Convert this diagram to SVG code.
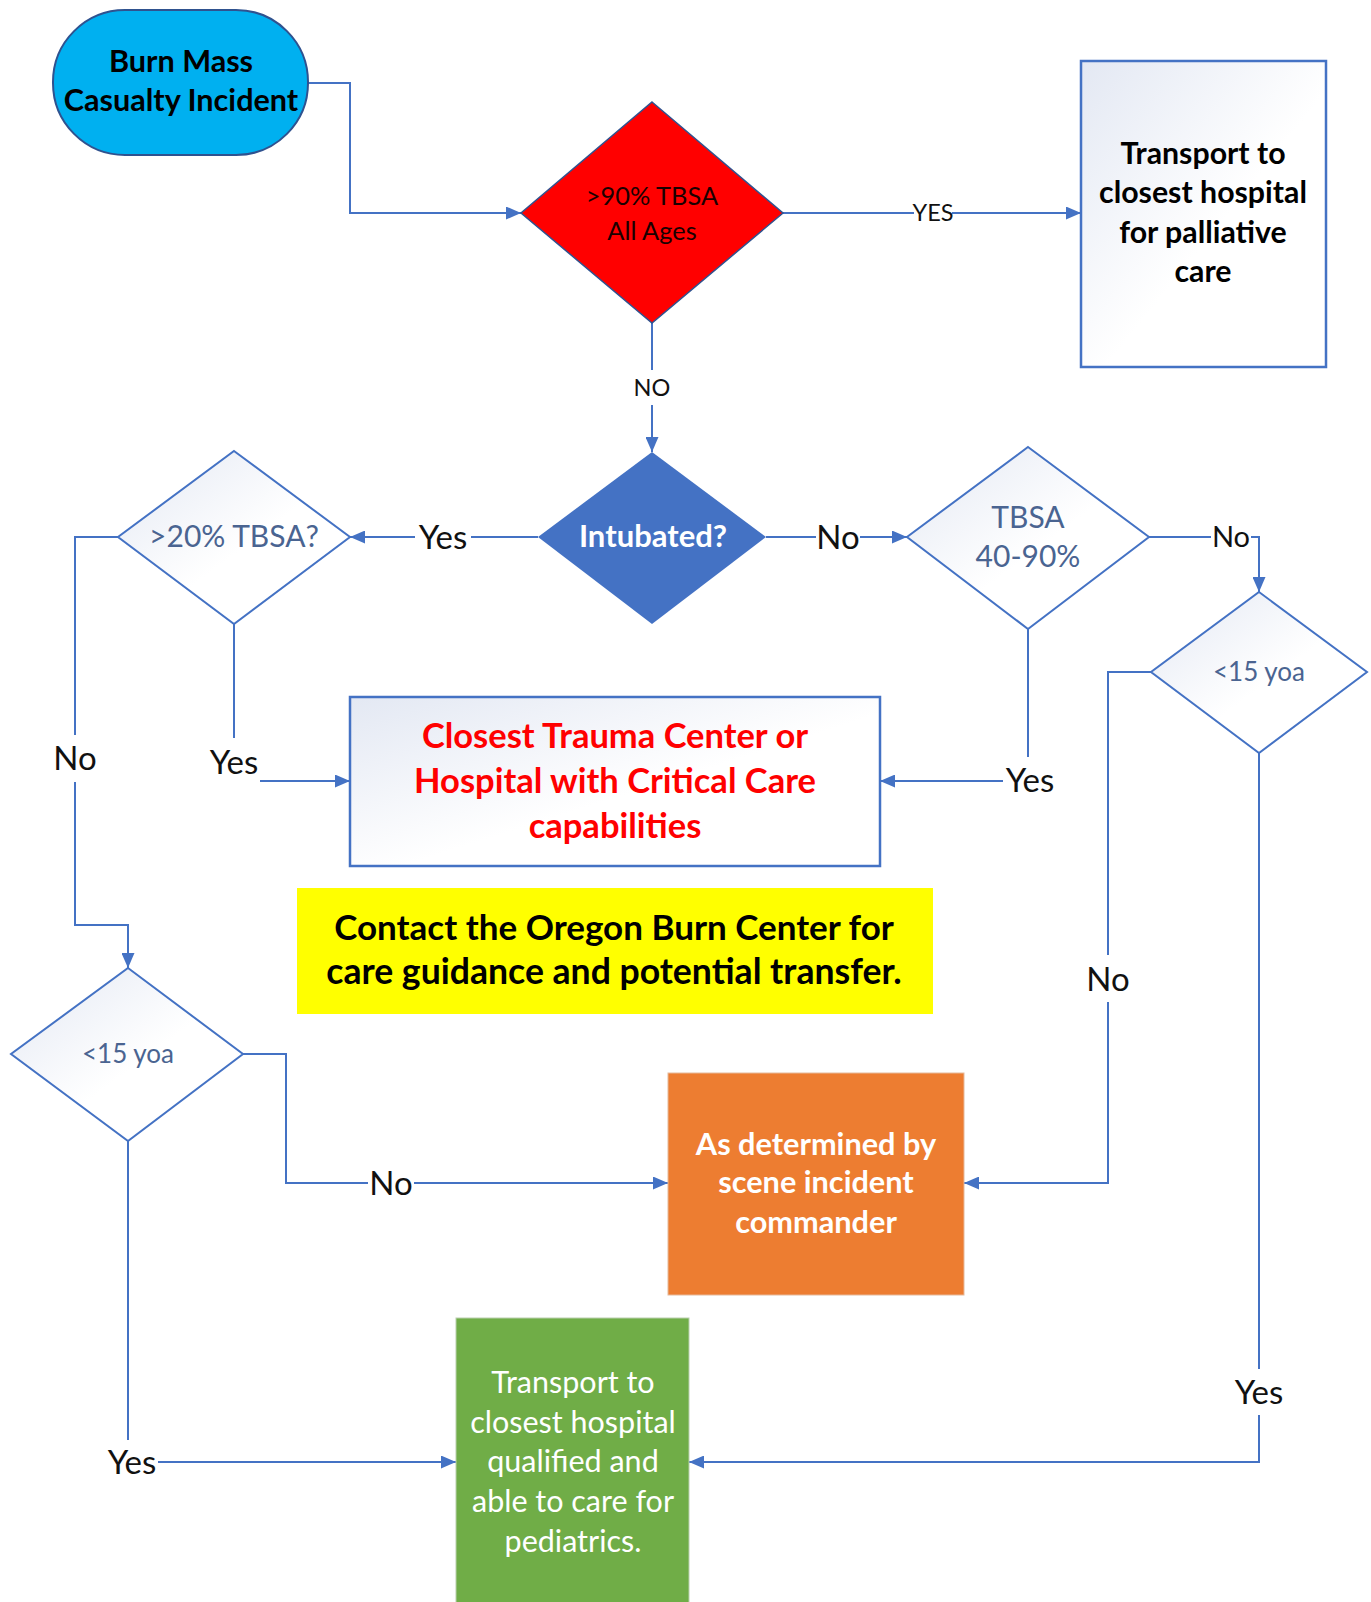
<svg xmlns="http://www.w3.org/2000/svg" width="1371" height="1602" viewBox="0 0 1371 1602">
<defs>
<linearGradient id="lg" x1="0" y1="0" x2="1" y2="1">
<stop offset="0" stop-color="#E3E8F3"/>
<stop offset="0.55" stop-color="#FFFFFF"/>
<stop offset="1" stop-color="#FFFFFF"/>
</linearGradient>
<marker id="ah" viewBox="0 0 15 13" refX="15" refY="6.5" markerWidth="15" markerHeight="13" markerUnits="userSpaceOnUse" orient="auto">
<path d="M0,0 L15,6.5 L0,13 z" fill="#4472C4"/>
</marker>
<style>
text{font-family:Lato,"Liberation Sans",sans-serif;text-anchor:middle}
.conn{fill:none;stroke:#4472C4;stroke-width:2}
.lbl{font-size:33px;fill:#111}
.lbls{font-size:23.5px;fill:#111}
.mask{fill:#FFFFFF}
.dq{fill:url(#lg);stroke:#4472C4;stroke-width:2}
.dqt{fill:#4A6491;font-size:30px}
.b{font-weight:bold}
</style>
</defs>
<rect width="1371" height="1602" fill="#FFFFFF"/>

<g id="connectors">
<path class="conn" d="M308,83 H350 V213 H521" marker-end="url(#ah)"/>
<path class="conn" d="M783,213 H1081" marker-end="url(#ah)"/>
<path class="conn" d="M652,323 V452" marker-end="url(#ah)"/>
<path class="conn" d="M538,537 H350" marker-end="url(#ah)"/>
<path class="conn" d="M766,537 H907" marker-end="url(#ah)"/>
<path class="conn" d="M1149,537 H1259 V592" marker-end="url(#ah)"/>
<path class="conn" d="M234,624 V781 H350" marker-end="url(#ah)"/>
<path class="conn" d="M1028,629 V781 H880" marker-end="url(#ah)"/>
<path class="conn" d="M118,537 H75 V925 H128 V968" marker-end="url(#ah)"/>
<path class="conn" d="M243,1054 H286 V1183 H668" marker-end="url(#ah)"/>
<path class="conn" d="M1151,672 H1108 V1183 H964" marker-end="url(#ah)"/>
<path class="conn" d="M128,1141 V1462 H456" marker-end="url(#ah)"/>
<path class="conn" d="M1259,753 V1462 H689" marker-end="url(#ah)"/>

<rect class="mask" x="914" y="202" width="38" height="22"/>
<text class="lbls" x="933" y="221">YES</text>
<rect class="mask" x="634" y="370" width="36" height="35"/>
<text class="lbls" x="652" y="396">NO</text>
<rect class="mask" x="415" y="520" width="56" height="35"/>
<text class="lbl" x="443" y="549">Yes</text>
<rect class="mask" x="816" y="520" width="44" height="35"/>
<text class="lbl" x="838" y="549">No</text>
<rect class="mask" x="1211" y="522" width="40" height="30"/>
<text class="lbl" x="1231" y="547" style="font-size:29px">No</text>
<rect class="mask" x="208" y="738" width="52" height="49"/>
<text class="lbl" x="234" y="774">Yes</text>
<rect class="mask" x="1003" y="757" width="54" height="38"/>
<text class="lbl" x="1030" y="792">Yes</text>
<rect class="mask" x="52" y="735" width="46" height="47"/>
<text class="lbl" x="75" y="770">No</text>
<rect class="mask" x="368" y="1165" width="46" height="35"/>
<text class="lbl" x="391" y="1195">No</text>
<rect class="mask" x="1086" y="955" width="44" height="47"/>
<text class="lbl" x="1108" y="991">No</text>
<rect class="mask" x="105" y="1440" width="53" height="45"/>
<text class="lbl" x="132" y="1474">Yes</text>
<rect class="mask" x="1232" y="1369" width="54" height="46"/>
<text class="lbl" x="1259" y="1404">Yes</text>
</g>

<g id="start">
<rect x="53" y="10" width="255" height="145" rx="72" ry="72" fill="#00B0F0" stroke="#2F528F" stroke-width="2"/>
<text class="b" x="181" y="72" style="font-size:30.6px;fill:#000">Burn Mass</text>
<text class="b" x="181" y="111" style="font-size:30.6px;fill:#000">Casualty Incident</text>
</g>

<g id="d90">
<polygon points="652,102 783,213 652,323 521,213" fill="#FF0000" stroke="#2F528F" stroke-width="1.5"/>
<text x="652" y="205" style="font-size:25.4px;fill:#1A0000">&gt;90% TBSA</text>
<text x="652" y="240" style="font-size:25.4px;fill:#1A0000">All Ages</text>
</g>

<g id="palliative">
<rect x="1081" y="61" width="245" height="306" fill="url(#lg)" stroke="#4472C4" stroke-width="2.5"/>
<text class="b" x="1203" y="164" style="font-size:30.3px;fill:#000">Transport to</text>
<text class="b" x="1203" y="203" style="font-size:30.3px;fill:#000">closest hospital</text>
<text class="b" x="1203" y="243" style="font-size:30.3px;fill:#000">for palliative</text>
<text class="b" x="1203" y="282" style="font-size:30.3px;fill:#000">care</text>
</g>

<g id="intubated">
<polygon points="652,452 766,537 652,624 538,537" fill="#4472C4"/>
<text class="b" x="653" y="547" style="font-size:31px;fill:#FFFFFF">Intubated?</text>
</g>

<g id="d20">
<polygon class="dq" points="234,451 350,537 234,624 118,537"/>
<text class="dqt" x="234" y="547">&gt;20% TBSA?</text>
</g>

<g id="d4090">
<polygon class="dq" points="1028,447 1149,537 1028,629 907,537"/>
<text class="dqt" x="1028" y="528">TBSA</text>
<text class="dqt" x="1028" y="567">40-90%</text>
</g>

<g id="age-right">
<polygon class="dq" points="1259,592 1367,672 1259,753 1151,672"/>
<text class="dqt" x="1259" y="681" style="font-size:26px">&lt;15 yoa</text>
</g>

<g id="trauma">
<rect x="350" y="697" width="530" height="169" fill="url(#lg)" stroke="#4472C4" stroke-width="2.5"/>
<text class="b" x="615" y="748" style="font-size:34.5px;fill:#FF0000">Closest Trauma Center or</text>
<text class="b" x="615" y="793" style="font-size:34.5px;fill:#FF0000">Hospital with Critical Care</text>
<text class="b" x="615" y="838" style="font-size:34.5px;fill:#FF0000">capabilities</text>
</g>

<g id="contact">
<rect x="297" y="888" width="636" height="126" fill="#FFFF00"/>
<text class="b" x="614" y="940" style="font-size:35px;fill:#000">Contact the Oregon Burn Center for</text>
<text class="b" x="614" y="984" style="font-size:35.6px;fill:#000">care guidance and potential transfer.</text>
</g>

<g id="age-left">
<polygon class="dq" points="128,968 243,1054 128,1141 11,1054"/>
<text class="dqt" x="128" y="1063" style="font-size:26px">&lt;15 yoa</text>
</g>

<g id="commander">
<rect x="668" y="1073" width="296" height="222" fill="#ED7D31" stroke="#E6B99A" stroke-width="1"/>
<text class="b" x="816" y="1155" style="font-size:30.7px;fill:#FFFFFF">As determined by</text>
<text class="b" x="816" y="1193" style="font-size:30.7px;fill:#FFFFFF">scene incident</text>
<text class="b" x="816" y="1233" style="font-size:30.7px;fill:#FFFFFF">commander</text>
</g>

<g id="pediatric">
<rect x="456" y="1318" width="233" height="300" fill="#70AD47" stroke="#B9CFAE" stroke-width="1"/>
<text x="573" y="1393" style="font-size:30.5px;fill:#FFFFFF">Transport to</text>
<text x="573" y="1433" style="font-size:30.5px;fill:#FFFFFF">closest hospital</text>
<text x="573" y="1472" style="font-size:30.5px;fill:#FFFFFF">qualified and</text>
<text x="573" y="1512" style="font-size:30.5px;fill:#FFFFFF">able to care for</text>
<text x="573" y="1552" style="font-size:30.5px;fill:#FFFFFF">pediatrics.</text>
</g>
</svg>
